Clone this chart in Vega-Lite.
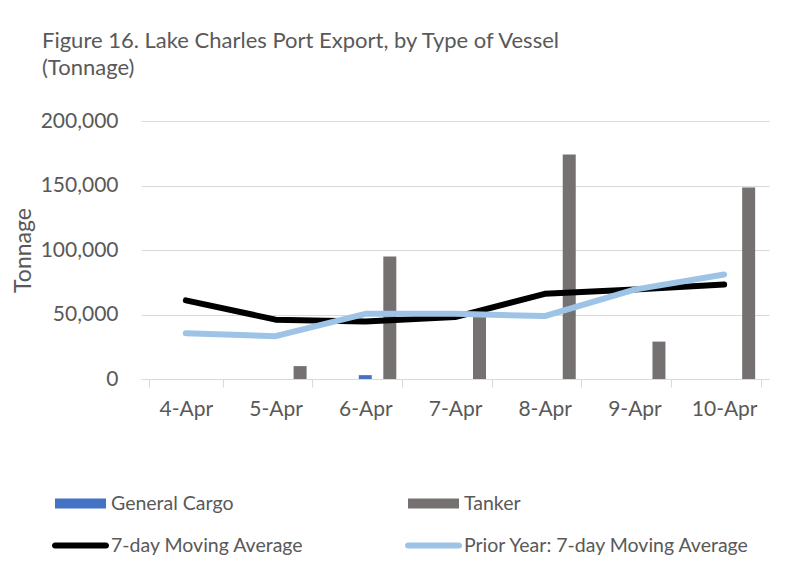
{
  "$schema": "https://vega.github.io/schema/vega-lite/v6.json",
  "width": 628,
  "height": 258,
  "autosize": {"type": "none"},
  "padding": {"left": 141, "top": 121, "right": 22, "bottom": 202},
  "background": "white",
  "config": {
    "font": "Lato",
    "view": {"stroke": null},
    "text": {"font": "Lato"}
  },
  "title": {
    "text": ["Figure 16. Lake Charles Port Export, by Type of Vessel", "(Tonnage)"],
    "anchor": "start",
    "frame": "group",
    "dx": -99,
    "offset": 30,
    "fontSize": 22,
    "fontWeight": "normal",
    "color": "#595959",
    "lineHeight": 27
  },
  "data": {
    "values": [
      {"date": "5-Apr", "series": "Tanker", "kind": "bar", "value": 10000},
      {"date": "6-Apr", "series": "General Cargo", "kind": "bar", "value": 3000},
      {"date": "6-Apr", "series": "Tanker", "kind": "bar", "value": 95000},
      {"date": "7-Apr", "series": "Tanker", "kind": "bar", "value": 48000},
      {"date": "8-Apr", "series": "Tanker", "kind": "bar", "value": 174000},
      {"date": "9-Apr", "series": "Tanker", "kind": "bar", "value": 29000},
      {"date": "10-Apr", "series": "Tanker", "kind": "bar", "value": 148500},
      {"date": "4-Apr", "series": "7-day Moving Average", "kind": "line", "value": 61000},
      {"date": "5-Apr", "series": "7-day Moving Average", "kind": "line", "value": 46000},
      {"date": "6-Apr", "series": "7-day Moving Average", "kind": "line", "value": 44500},
      {"date": "7-Apr", "series": "7-day Moving Average", "kind": "line", "value": 48000},
      {"date": "8-Apr", "series": "7-day Moving Average", "kind": "line", "value": 66000},
      {"date": "9-Apr", "series": "7-day Moving Average", "kind": "line", "value": 69300},
      {"date": "10-Apr", "series": "7-day Moving Average", "kind": "line", "value": 73200},
      {"date": "4-Apr", "series": "Prior Year: 7-day Moving Average", "kind": "line", "value": 35500},
      {"date": "5-Apr", "series": "Prior Year: 7-day Moving Average", "kind": "line", "value": 33200},
      {"date": "6-Apr", "series": "Prior Year: 7-day Moving Average", "kind": "line", "value": 50500},
      {"date": "7-Apr", "series": "Prior Year: 7-day Moving Average", "kind": "line", "value": 50500},
      {"date": "8-Apr", "series": "Prior Year: 7-day Moving Average", "kind": "line", "value": 48800},
      {"date": "9-Apr", "series": "Prior Year: 7-day Moving Average", "kind": "line", "value": 69300},
      {"date": "10-Apr", "series": "Prior Year: 7-day Moving Average", "kind": "line", "value": 81000}
    ]
  },
  "encoding": {
    "x": {
      "field": "date",
      "type": "nominal",
      "sort": ["4-Apr", "5-Apr", "6-Apr", "7-Apr", "8-Apr", "9-Apr", "10-Apr"],
      "scale": {"paddingInner": 0.18, "paddingOuter": 0.09},
      "axis": {
        "title": null,
        "labelAngle": 0,
        "labelFontSize": 21,
        "labelColor": "#595959",
        "labelPadding": 11,
        "domainColor": "#D9D9D9",
        "tickColor": "#D9D9D9",
        "tickSize": 8,
        "tickBand": "extent",
        "grid": false
      }
    },
    "y": {
      "field": "value",
      "type": "quantitative",
      "scale": {"domain": [0, 200000], "nice": false},
      "axis": {
        "title": "Tonnage",
        "titleFontSize": 23,
        "titleFontWeight": "normal",
        "titleColor": "#595959",
        "titlePadding": 5,
        "values": [0, 50000, 100000, 150000, 200000],
        "format": ",.0f",
        "labelFontSize": 21,
        "labelColor": "#595959",
        "labelPadding": 23,
        "ticks": false,
        "domain": false,
        "grid": true,
        "gridColor": "#D9D9D9",
        "gridWidth": 1
      }
    }
  },
  "layer": [
    {
      "transform": [{"filter": "datum.kind === 'bar'"}],
      "mark": {"type": "bar"},
      "encoding": {
        "xOffset": {
          "field": "series",
          "type": "nominal",
          "scale": {"domain": ["Other", "General Cargo", "Tanker"], "paddingInner": 0.47, "paddingOuter": 0.235}
        },
        "color": {
          "field": "series",
          "type": "nominal",
          "scale": {
            "domain": ["General Cargo", "Tanker", "7-day Moving Average", "Prior Year: 7-day Moving Average"],
            "range": ["#4472C4", "#767171", "#000000", "#9DC3E6"]
          },
          "legend": {
            "title": null,
            "orient": "none",
            "direction": "horizontal",
            "legendX": -86,
            "legendY": 357,
            "columns": 2,
            "columnPadding": 100,
            "rowPadding": 7,
            "labelFontSize": 19.5,
            "labelColor": "#595959",
            "labelLimit": 400,
            "labelOffset": 5,
            "symbolSize": 2601,
            "symbolType": "M-1,-0.196H1V0.196H-1Z",
            "symbolStrokeWidth": 0,
            "encode": {
              "symbols": {
                "update": {
                  "shape": {"signal": "indexof(['7-day Moving Average','Prior Year: 7-day Moving Average'], datum.value) >= 0 ? 'M-1,-0.118H1A0.118,0.118 0 0 1 1,0.118H-1A0.118,0.118 0 0 1 -1,-0.118Z' : 'M-1,-0.196H1V0.196H-1Z'"},
                  "fill": {"scale": "color", "field": "value"},
                  "fillOpacity": {"value": 1},
                  "strokeWidth": {"value": 0}
                }
              }
            }
          }
        }
      }
    },
    {
      "transform": [{"filter": "datum.series === '7-day Moving Average'"}],
      "mark": {"type": "line", "strokeWidth": 6, "strokeCap": "round", "strokeJoin": "round"},
      "encoding": {"color": {"field": "series", "type": "nominal"}}
    },
    {
      "transform": [{"filter": "datum.series === 'Prior Year: 7-day Moving Average'"}],
      "mark": {"type": "line", "strokeWidth": 6, "strokeCap": "round", "strokeJoin": "round"},
      "encoding": {"color": {"field": "series", "type": "nominal"}}
    }
  ]
}
